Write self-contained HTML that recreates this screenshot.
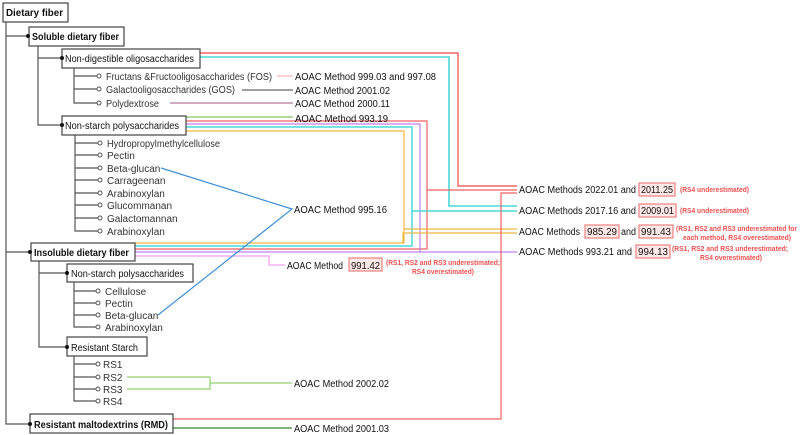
<!DOCTYPE html>
<html><head><meta charset="utf-8"><style>
html,body{margin:0;padding:0;background:#fff;}
svg{display:block;font-family:"Liberation Sans",sans-serif;}
.t{font-size:10px;fill:#333;}
.b{font-size:10px;font-weight:bold;fill:#111;}
.m{font-size:10px;fill:#111;}
.n{font-size:7px;font-weight:bold;fill:#f05050;}
</style></head><body>
<svg width="800" height="435" viewBox="0 0 800 435" xmlns="http://www.w3.org/2000/svg">
<g fill="none" stroke-width="1.2">
<polyline points="200,53 458,53 458,186 517,186" stroke="#f04848"/>
<polyline points="200,57 449,57 449,206 517,206" stroke="#48d8d8" stroke-width="1.6"/>
<polyline points="186,121 427,121 427,249 135,249" stroke="#f06060"/>
<polyline points="427,190 517,190" stroke="#f06060"/>
<polyline points="186,124 420,124 420,252 135,252" stroke="#c080f0"/>
<polyline points="420,252 517,252" stroke="#c080f0"/>
<polyline points="186,127 412,127 412,246 135,246" stroke="#48d8d8" stroke-width="1.5"/>
<polyline points="412,211 517,211" stroke="#48d8d8" stroke-width="1.5"/>
<polyline points="186,131 404,131 404,243 135,243" stroke="#f0b840"/>
<polyline points="404,229 517,229" stroke="#f0b840"/>
<polyline points="403,243 403,233 517,233" stroke="#f0b840"/>
<polyline points="173,419 501,419 501,193 517,193" stroke="#f06060"/>
<polyline points="135,256 269,256 269,265 285,265" stroke="#f0a0f0"/>
<line x1="277" y1="76" x2="293" y2="76" stroke="#f8b0b0"/>
<line x1="242" y1="90" x2="293" y2="90" stroke="#666"/>
<line x1="170" y1="103" x2="293" y2="103" stroke="#c8a0b8" stroke-width="1.8"/>
<line x1="186" y1="117" x2="293" y2="117" stroke="#80c860"/>
<polyline points="161,168 292,209 158,315" stroke="#4090d8"/>
<polyline points="127,377 210,377 210,389 127,389" stroke="#90d070"/>
<line x1="210" y1="383" x2="292" y2="383" stroke="#90d070"/>
<line x1="173" y1="428" x2="292" y2="428" stroke="#2a8a2a"/>
<g stroke="#555">
<polyline points="6,22 6,424 30,424"/>
<line x1="6" y1="36" x2="28" y2="36"/>
<line x1="6" y1="252" x2="30" y2="252"/>
<polyline points="38,46 38,125 62,125"/>
<line x1="38" y1="58" x2="62" y2="58"/>
<polyline points="74,68 74,103 97,103"/>
<line x1="74" y1="76" x2="97" y2="76"/><line x1="74" y1="89" x2="97" y2="89"/>
<polyline points="75,135 75,231 98,231"/>
<line x1="75" y1="143" x2="98" y2="143"/><line x1="75" y1="155" x2="98" y2="155"/>
<line x1="75" y1="168" x2="98" y2="168"/><line x1="75" y1="180" x2="98" y2="180"/>
<line x1="75" y1="193" x2="98" y2="193"/><line x1="75" y1="205" x2="98" y2="205"/>
<line x1="75" y1="218" x2="98" y2="218"/>
<polyline points="39,260 39,347 67,347"/>
<line x1="39" y1="273" x2="67" y2="273"/>
<polyline points="74,282 74,327 96,327"/>
<line x1="74" y1="291" x2="96" y2="291"/><line x1="74" y1="303" x2="96" y2="303"/><line x1="74" y1="315" x2="96" y2="315"/>
<polyline points="74,356 74,401 96,401"/>
<line x1="74" y1="364" x2="96" y2="364"/><line x1="74" y1="377" x2="96" y2="377"/><line x1="74" y1="389" x2="96" y2="389"/>
</g>
<g stroke="#444" fill="#fff">
<rect x="3" y="3" width="65" height="19"/>
<rect x="29" y="27" width="95" height="19"/>
<rect x="62" y="49" width="138" height="19"/>
<rect x="62" y="116" width="124" height="19"/>
<rect x="31" y="243" width="104" height="18"/>
<rect x="67" y="264" width="126" height="18"/>
<rect x="67" y="337" width="80" height="19"/>
<rect x="30" y="414" width="143" height="19"/>
</g>
<g stroke="#f08080" fill="#fde8e8">
<rect x="639" y="183" width="36" height="13"/>
<rect x="639" y="204" width="37" height="13"/>
<rect x="585" y="225" width="34" height="13"/>
<rect x="639" y="225" width="34" height="13"/>
<rect x="636" y="245" width="34" height="13"/>
<rect x="349" y="258" width="33" height="13"/>
</g>
</g>
<g fill="#111">
<circle cx="28" cy="36" r="2"/><circle cx="62" cy="58" r="2"/><circle cx="62" cy="125" r="2"/>
<circle cx="30" cy="252" r="2"/><circle cx="67" cy="273" r="2"/><circle cx="67" cy="347" r="2"/><circle cx="30" cy="424" r="2"/>
</g>
<g fill="#fff" stroke="#555" stroke-width="1">
<circle cx="99" cy="76" r="2"/><circle cx="99" cy="89" r="2"/><circle cx="99" cy="103" r="2"/>
<circle cx="100" cy="143" r="2"/><circle cx="100" cy="155" r="2"/><circle cx="100" cy="168" r="2"/><circle cx="100" cy="180" r="2"/>
<circle cx="100" cy="193" r="2"/><circle cx="100" cy="205" r="2"/><circle cx="100" cy="218" r="2"/><circle cx="100" cy="231" r="2"/>
<circle cx="98" cy="291" r="2"/><circle cx="98" cy="303" r="2"/><circle cx="98" cy="315" r="2"/><circle cx="98" cy="327" r="2"/>
<circle cx="98" cy="364" r="2"/><circle cx="98" cy="377" r="2"/><circle cx="98" cy="389" r="2"/><circle cx="98" cy="401" r="2"/>
</g>
<text class="b" x="6" y="16" textLength="57" lengthAdjust="spacingAndGlyphs">Dietary fiber</text>
<text class="b" x="32" y="40" textLength="87" lengthAdjust="spacingAndGlyphs">Soluble dietary fiber</text>
<text class="m" x="65" y="62" textLength="129" lengthAdjust="spacingAndGlyphs">Non-digestible oligosaccharides</text>
<text class="m" x="65" y="129" textLength="114" lengthAdjust="spacingAndGlyphs">Non-starch polysaccharides</text>
<text class="b" x="34" y="256" textLength="95" lengthAdjust="spacingAndGlyphs">Insoluble dietary fiber</text>
<text class="m" x="71" y="277" textLength="113" lengthAdjust="spacingAndGlyphs">Non-starch polysaccharides</text>
<text class="m" x="71" y="351" textLength="67" lengthAdjust="spacingAndGlyphs">Resistant Starch</text>
<text class="b" x="34" y="428" textLength="134" lengthAdjust="spacingAndGlyphs">Resistant maltodextrins (RMD)</text>
<g class="t">
<text x="106" y="80" textLength="166" lengthAdjust="spacingAndGlyphs">Fructans &amp;Fructooligosaccharides (FOS)</text>
<text x="106" y="93" textLength="129" lengthAdjust="spacingAndGlyphs">Galactooligosaccharides (GOS)</text>
<text x="106" y="107" textLength="53" lengthAdjust="spacingAndGlyphs">Polydextrose</text>
<text x="107" y="147" textLength="113" lengthAdjust="spacingAndGlyphs">Hydropropylmethylcellulose</text>
<text x="107" y="159">Pectin</text>
<text x="107" y="172">Beta-glucan</text>
<text x="107" y="184">Carrageenan</text>
<text x="107" y="197">Arabinoxylan</text>
<text x="107" y="209">Glucommanan</text>
<text x="107" y="222">Galactomannan</text>
<text x="107" y="235">Arabinoxylan</text>
<text x="105" y="295">Cellulose</text>
<text x="105" y="307">Pectin</text>
<text x="105" y="319">Beta-glucan</text>
<text x="105" y="331">Arabinoxylan</text>
<text x="103" y="368">RS1</text>
<text x="103" y="381">RS2</text>
<text x="103" y="393">RS3</text>
<text x="103" y="405">RS4</text>
</g>
<g class="m">
<text x="295" y="80" textLength="141" lengthAdjust="spacingAndGlyphs">AOAC Method  999.03 and 997.08</text>
<text x="295" y="94" textLength="95" lengthAdjust="spacingAndGlyphs">AOAC Method 2001.02</text>
<text x="295" y="107" textLength="95" lengthAdjust="spacingAndGlyphs">AOAC Method 2000.11</text>
<text x="295" y="122" textLength="93" lengthAdjust="spacingAndGlyphs">AOAC Method  993.19</text>
<text x="294" y="213" textLength="93" lengthAdjust="spacingAndGlyphs">AOAC Method  995.16</text>
<text x="287" y="269" textLength="56" lengthAdjust="spacingAndGlyphs">AOAC Method</text>
<text x="351" y="269" textLength="29" lengthAdjust="spacingAndGlyphs">991.42</text>
<text x="294" y="387" textLength="95" lengthAdjust="spacingAndGlyphs">AOAC Method 2002.02</text>
<text x="294" y="432" textLength="95" lengthAdjust="spacingAndGlyphs">AOAC Method 2001.03</text>
<text x="519" y="193" textLength="117" lengthAdjust="spacingAndGlyphs">AOAC Methods 2022.01 and</text>
<text x="641" y="193" textLength="32" lengthAdjust="spacingAndGlyphs">2011.25</text>
<text x="519" y="214" textLength="117" lengthAdjust="spacingAndGlyphs">AOAC Methods 2017.16 and</text>
<text x="641" y="214" textLength="33" lengthAdjust="spacingAndGlyphs">2009.01</text>
<text x="519" y="235" textLength="61" lengthAdjust="spacingAndGlyphs">AOAC Methods</text>
<text x="587" y="235" textLength="30" lengthAdjust="spacingAndGlyphs">985.29</text>
<text x="621" y="235" textLength="15" lengthAdjust="spacingAndGlyphs">and</text>
<text x="641" y="235" textLength="30" lengthAdjust="spacingAndGlyphs">991.43</text>
<text x="519" y="255" textLength="113" lengthAdjust="spacingAndGlyphs">AOAC Methods  993.21 and</text>
<text x="638" y="255" textLength="30" lengthAdjust="spacingAndGlyphs">994.13</text>
</g>
<g class="n">
<text x="680" y="192" textLength="69" lengthAdjust="spacingAndGlyphs">(RS4 underestimated)</text>
<text x="680" y="213" textLength="69" lengthAdjust="spacingAndGlyphs">(RS4 underestimated)</text>
<text x="676" y="231" textLength="121" lengthAdjust="spacingAndGlyphs">(RS1, RS2 and RS3 underestimated for</text>
<text x="683" y="240" textLength="108" lengthAdjust="spacingAndGlyphs">each method, RS4 overestimated)</text>
<text x="672" y="251" textLength="116" lengthAdjust="spacingAndGlyphs">(RS1, RS2 and RS3 underestimated;</text>
<text x="700" y="260" textLength="62" lengthAdjust="spacingAndGlyphs">RS4 overestimated)</text>
<text x="386" y="265" textLength="114" lengthAdjust="spacingAndGlyphs">(RS1, RS2 and RS3 underestimated;</text>
<text x="412" y="274" textLength="62" lengthAdjust="spacingAndGlyphs">RS4 overestimated)</text>
</g>
</svg>
</body></html>
